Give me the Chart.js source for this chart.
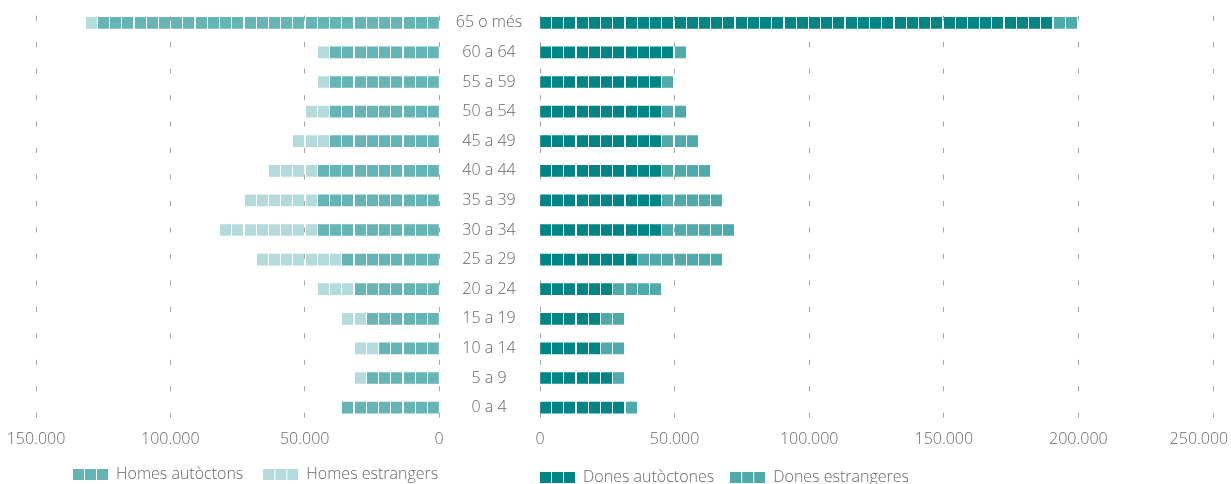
<!DOCTYPE html>
<html lang="ca">
<head>
<meta charset="utf-8">
<title>Població per edat, sexe i origen</title>
<script src="https://cdn.jsdelivr.net/npm/chart.js@4.4.1/dist/chart.umd.min.js"></script>
<style>
  html, body { margin: 0; padding: 0; background: #fff; }
  #wrap { position: relative; width: 1231px; height: 484px; overflow: hidden; }
  canvas { position: absolute; top: 0; }
  #homes { left: 0; z-index: 2; }
  #dones { left: 440px; z-index: 1; }
</style>
</head>
<body>
<div id="wrap">
  <canvas id="dones" width="791" height="484"></canvas>
  <canvas id="homes" width="470" height="484"></canvas>
</div>
<script>
// ============================================
// Piràmide de població: homes (esquerra) i dones (dreta)
// ============================================

// Grups d'edat, de dalt a baix
const edats = ['65 o més', '60 a 64', '55 a 59', '50 a 54', '45 a 49', '40 a 44', '35 a 39',
               '30 a 34', '25 a 29', '20 a 24', '15 a 19', '10 a 14', '5 a 9', '0 a 4'];

// Persones per grup d'edat
const homesAutoctons   = [127000, 40700, 40700, 40700, 40700, 45200, 45200, 45200, 36100, 31600, 27000, 22500, 27000, 36100];
const homesEstrangers  = [  4500,  4500,  4500,  9100, 13600, 18200, 27300, 36400, 31800, 13600,  9100,  9100,  4500,     0];
const donesAutoctones  = [190700, 49800, 45200, 45200, 45200, 45200, 45200, 45200, 36100, 27000, 22500, 22500, 27000, 31600];
const donesEstrangeres = [  8900,  4500,  4500,  9100, 13600, 18200, 22700, 27300, 31800, 18200,  9100,  9100,  4500,  4500];

// Marques de l'eix horitzontal
const ticksHomes = [0, 50000, 100000, 150000];
const ticksDones = [0, 50000, 100000, 150000, 200000, 250000];

const COLORS = {
    homesAut: '#66b5b6',
    homesEst: '#b3dbdb',
    donesAut: '#008587',
    donesEst: '#4eaaab'
};
const TEXT = '#63676a';
const GRID = '#a2a4a7';
const FONT = "'Open Sans', 'Noto Sans', sans-serif";
const LEGEND_SIZE = 16;

Chart.defaults.font.family = FONT;
Chart.defaults.font.size = 16;
Chart.defaults.font.weight = 300;
Chart.defaults.color = TEXT;

const fmt = v => String(v).replace(/\B(?=(\d{3})+(?!\d))/g, '.');

// Barres fetes de quadrats: 11 quadrats = 50.000 persones
const SQ = 11;
const PERIOD = 269;          // 22 quadrats
const STEP = PERIOD / 22;

function squarePattern(ctx, color, mirrored) {
    const c = document.createElement('canvas');
    c.width = PERIOD; c.height = 1;
    const g = c.getContext('2d');
    g.fillStyle = color;
    for (let i = 0; i < 22; i++) {
        const x = Math.round(i * STEP);
        g.fillRect(mirrored ? PERIOD - x - SQ : x, 0, SQ, 1);
    }
    return ctx.createPattern(c, 'repeat');
}

function legendIcon(color) {
    const c = document.createElement('canvas');
    c.width = 35; c.height = 11;
    const g = c.getContext('2d');
    g.fillStyle = color;
    [0, 12, 24].forEach(x => g.fillRect(x, 0, SQ, SQ));
    return c;
}

// Alinea els quadrats amb el zero i col·loca la llegenda
const ajustos = {
    id: 'ajustos',
    afterLayout(chart, args, opts) {
        const lg = chart.legend;
        lg.left = opts.legendX - opts.pad;
        lg.right = chart.width + 1000;
        lg.top = opts.legendY - opts.pad - LEGEND_SIZE / 2;
        lg.bottom = chart.height;
    },
    beforeDatasetsDraw(chart) {
        const x0 = chart.scales.x.getPixelForValue(0);
        chart.data.datasets.forEach(ds => ds.backgroundColor.setTransform(new DOMMatrix().translate(x0, 0)));
    }
};

const DASH = { display: false, dash: [5, 21.47], dashOffset: 18.77 };

function legendOptions(pad, icons) {
    return {
        position: 'bottom',
        align: 'start',
        maxHeight: 1,
        labels: {
            usePointStyle: true, pointStyleWidth: 35, boxHeight: 11,
            padding: pad, color: TEXT, font: { size: LEGEND_SIZE },
            generateLabels: chart => chart.data.datasets.map((ds, i) => ({
                text: ds.label, pointStyle: icons[i], fillStyle: 'transparent',
                strokeStyle: 'transparent', lineWidth: 0, hidden: false, datasetIndex: i, fontColor: TEXT
            }))
        }
    };
}

// ---------- Homes ----------
const ctxH = document.getElementById('homes').getContext('2d');
new Chart(ctxH, {
    type: 'bar',
    data: {
        labels: edats,
        datasets: [
            { label: 'Homes autòctons', data: homesAutoctons, backgroundColor: squarePattern(ctxH, COLORS.homesAut, true), barThickness: 11, borderWidth: 0 },
            { label: 'Homes estrangers', data: homesEstrangers, backgroundColor: squarePattern(ctxH, COLORS.homesEst, true), barThickness: 11, borderWidth: 0 }
        ]
    },
    options: {
        indexAxis: 'y',
        responsive: false,
        animation: false,
        events: [],
        layout: { padding: { top: 8, left: 36, right: 31, bottom: 33.6 } },
        scales: {
            x: {
                type: 'linear', reverse: true, stacked: true, min: 0, max: 150000,
                afterBuildTicks: s => { s.ticks = ticksHomes.map(v => ({ value: v })); },
                afterFit: s => { s.height = 27; s.paddingLeft = 0; s.paddingRight = 0; },
                ticks: { padding: 7.5, color: TEXT, callback: v => fmt(v) },
                grid: { color: GRID, lineWidth: 1, drawTicks: false },
                border: DASH
            },
            y: { stacked: true, display: false }
        },
        plugins: {
            tooltip: { enabled: false },
            legend: legendOptions(20, [legendIcon(COLORS.homesAut), legendIcon(COLORS.homesEst)]),
            ajustos: { legendX: 73, legendY: 474.5, pad: 20 }
        }
    },
    plugins: [ajustos]
});

// ---------- Dones ----------
const ctxD = document.getElementById('dones').getContext('2d');
ctxD.font = '300 16px ' + FONT;
const widest = Math.max(...edats.map(t => ctxD.measureText(t).width));

new Chart(ctxD, {
    type: 'bar',
    data: {
        labels: edats,
        datasets: [
            { label: 'Dones autòctones', data: donesAutoctones, backgroundColor: squarePattern(ctxD, COLORS.donesAut, false), barThickness: 11, borderWidth: 0 },
            { label: 'Dones estrangeres', data: donesEstrangeres, backgroundColor: squarePattern(ctxD, COLORS.donesEst, false), barThickness: 11, borderWidth: 0 }
        ]
    },
    options: {
        indexAxis: 'y',
        responsive: false,
        animation: false,
        events: [],
        layout: { padding: { top: 8, left: 0, right: 0, bottom: 33.6 } },
        scales: {
            x: {
                type: 'linear', stacked: true, min: 0, max: 250000,
                afterBuildTicks: s => { s.ticks = ticksDones.map(v => ({ value: v })); },
                afterFit: s => { s.height = 27; s.paddingLeft = 0; s.paddingRight = 18; },
                // l'última etiqueta queda una mica cap a dins
                ticks: { padding: 7.5, color: TEXT, callback: v => v === 250000 ? fmt(v) + '\u2002\u2002\u2002 ' : fmt(v) },
                grid: { color: GRID, lineWidth: 1, drawTicks: false },
                border: DASH
            },
            y: {
                stacked: true,
                afterFit: s => { s.width = 100; s.paddingTop = 0; s.paddingBottom = 0; },
                ticks: { crossAlign: 'center', padding: 51 - widest / 2, color: TEXT },
                grid: { display: false, drawTicks: false },
                border: { display: false }
            }
        },
        plugins: {
            tooltip: { enabled: false },
            legend: legendOptions(16, [legendIcon(COLORS.donesAut), legendIcon(COLORS.donesEst)]),
            ajustos: { legendX: 540 - 440, legendY: 477.5, pad: 16 }
        }
    },
    plugins: [ajustos]
});
</script>
</body>
</html>
